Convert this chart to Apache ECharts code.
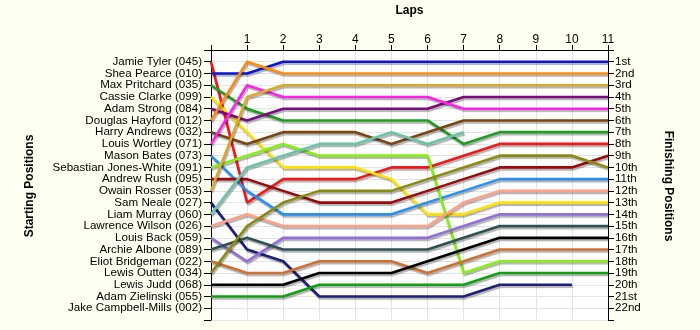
<!DOCTYPE html>
<html>
<head>
<meta charset="utf-8">
<script src="https://cdn.jsdelivr.net/npm/echarts@6/dist/echarts.min.js"></script>
<style>
  html, body { margin: 0; padding: 0; background: #fffff2; }
  #chart { width: 700px; height: 330px; }
</style>
</head>
<body>
<div id="chart"></div>
<script>
// Lap numbers (0 = grid)
const laps = [0, 1, 2, 3, 4, 5, 6, 7, 8, 9, 10, 11];

// Drivers in starting order
const drivers = [
  'Jamie Tyler (045)', 'Shea Pearce (010)', 'Max Pritchard (035)', 'Cassie Clarke (099)',
  'Adam Strong (084)', 'Douglas Hayford (012)', 'Harry Andrews (032)', 'Louis Wortley (071)',
  'Mason Bates (073)', 'Sebastian Jones-White (091)', 'Andrew Rush (095)', 'Owain Rosser (053)',
  'Sam Neale (027)', 'Liam Murray (060)', 'Lawrence Wilson (026)', 'Louis Back (059)',
  'Archie Albone (089)', 'Eliot Bridgeman (022)', 'Lewis Outten (034)', 'Lewis Judd (068)',
  'Adam Zielinski (055)', 'Jake Campbell-Mills (002)'
];

// Finishing position labels
const finishLabels = [
  '1st', '2nd', '3rd', '4th', '5th', '6th', '7th', '8th', '9th', '10th', '11th',
  '12th', '13th', '14th', '15th', '16th', '17th', '18th', '19th', '20th', '21st', '22nd'
];

// Position of each driver at the end of every lap (null = retired)
const posJamieTyler      = [1, 13, 11, 11, 11, 10, 10, 9, 8, 8, 8, 8];
const posSheaPearce      = [2, 2, 1, 1, 1, 1, 1, 1, 1, 1, 1, 1];
const posMaxPritchard    = [3, 5, 6, 6, 6, 6, 6, 8, 7, 7, 7, 7];
const posCassieClarke    = [4, 7, 10, 10, 10, 11, 14, 14, 13, 13, 13, 13];
const posAdamStrong      = [5, 6, 5, 5, 5, 5, 5, 4, 4, 4, 4, 4];
const posDouglasHayford  = [6, 1, 2, 2, 2, 2, 2, 2, 2, 2, 2, 2];
const posHarryAndrews    = [7, 8, 7, 7, 7, 8, 7, 6, 6, 6, 6, 6];
const posLouisWortley    = [8, 3, 4, 4, 4, 4, 4, 5, 5, 5, 5, 5];
const posMasonBates      = [9, 12, 14, 14, 14, 14, 13, 12, 11, 11, 11, 11];
const posSebastianJW     = [10, 9, 8, 9, 9, 9, 9, 19, 18, 18, 18, 18];
const posAndrewRush      = [11, 11, 12, 13, 13, 13, 12, 11, 10, 10, 10, 9];
const posOwainRosser     = [12, 4, 3, 3, 3, 3, 3, 3, 3, 3, 3, 3];
const posSamNeale        = [13, 17, 18, 21, 21, 21, 21, 21, 20, 20, 20, null];
const posLiamMurray      = [14, 10, 9, 8, 8, 7, 8, 7, null, null, null, null];
const posLawrenceWilson  = [15, 14, 15, 15, 15, 15, 15, 13, 12, 12, 12, 12];
const posLouisBack       = [16, 18, 16, 16, 16, 16, 16, 15, 14, 14, 14, 14];
const posArchieAlbone    = [17, 16, 17, 17, 17, 17, 17, 16, 15, 15, 15, 15];
const posEliotBridgeman  = [18, 19, 19, 18, 18, 18, 19, 18, 17, 17, 17, 17];
const posLewisOutten     = [19, 15, 13, 12, 12, 12, 11, 10, 9, 9, 9, 10];
const posLewisJudd       = [20, 20, 20, 19, 19, 19, 18, 17, 16, 16, 16, 16];
const posAdamZielinski   = [21, 21, 21, 20, 20, 20, 20, 20, 19, 19, 19, 19];

const traces = [
  { name: drivers[0],  pos: posJamieTyler,     color: '#f01818' },
  { name: drivers[1],  pos: posSheaPearce,     color: '#0a14d2' },
  { name: drivers[2],  pos: posMaxPritchard,   color: '#1f9e1f' },
  { name: drivers[3],  pos: posCassieClarke,   color: '#ffe000' },
  { name: drivers[4],  pos: posAdamStrong,     color: '#7a0a80' },
  { name: drivers[5],  pos: posDouglasHayford, color: '#ff8a10' },
  { name: drivers[6],  pos: posHarryAndrews,   color: '#7a4510' },
  { name: drivers[7],  pos: posLouisWortley,   color: '#ff20f0' },
  { name: drivers[8],  pos: posMasonBates,     color: '#2a90f0' },
  { name: drivers[9],  pos: posSebastianJW,    color: '#86f010' },
  { name: drivers[10], pos: posAndrewRush,     color: '#9a0a0a' },
  { name: drivers[11], pos: posOwainRosser,    color: '#dca82a' },
  { name: drivers[12], pos: posSamNeale,       color: '#1e1e78' },
  { name: drivers[13], pos: posLiamMurray,     color: '#6cc4a8' },
  { name: drivers[14], pos: posLawrenceWilson, color: '#ffa088' },
  { name: drivers[15], pos: posLouisBack,      color: '#9070d8' },
  { name: drivers[16], pos: posArchieAlbone,   color: '#2e5252' },
  { name: drivers[17], pos: posEliotBridgeman, color: '#d07030' },
  { name: drivers[18], pos: posLewisOutten,    color: '#8a8a10' },
  { name: drivers[19], pos: posLewisJudd,      color: '#000000' },
  { name: drivers[20], pos: posAdamZielinski,  color: '#10a010' }
];

const FONT = 'Liberation Sans';

const series = traces.map(t => ({
  name: t.name,
  type: 'line',
  yAxisIndex: 0,
  showSymbol: false,
  symbol: 'none',
  connectNulls: false,
  data: laps.map((lap, i) => [lap, t.pos[i]]),
  lineStyle: {
    color: t.color,
    width: 2.6,
    shadowColor: 'rgba(0,0,0,0.3)',
    shadowBlur: 1,
    shadowOffsetX: 1,
    shadowOffsetY: 2
  },
  itemStyle: { color: t.color }
}));

// Anchor series for the right-hand axis
series.push({
  type: 'line', yAxisIndex: 1, data: [], silent: true
});

const chart = echarts.init(document.getElementById('chart'), null, { renderer: 'canvas' });

chart.setOption({
  animation: false,
  backgroundColor: '#fffff2',
  grid: { left: 211, right: 92, top: 50, bottom: 10, show: true, backgroundColor: '#ffffff', borderWidth: 0 },
  xAxis: {
    type: 'value', position: 'top', min: 0, max: 11, interval: 1,
    name: 'Laps', nameLocation: 'middle', nameGap: 33,
    nameTextStyle: { fontFamily: FONT, fontSize: 12, fontWeight: 'bold', color: '#000' },
    axisLine: { onZero: false, lineStyle: { color: '#000', width: 1 } },
    axisTick: { show: true, length: 5, lineStyle: { color: '#000' } },
    axisLabel: {
      fontFamily: FONT, fontSize: 12, color: '#000', margin: 4,
      formatter: v => (v === 0 ? '' : String(v))
    },
    splitLine: { show: true, lineStyle: { color: '#e4e4e4', width: 1 } }
  },
  yAxis: [
    {
      type: 'value', min: 0, max: 23, interval: 1, inverse: true, position: 'left',
      axisLine: { show: true, onZero: false, lineStyle: { color: '#000', width: 1 } },
      axisTick: { show: true, length: 7, lineStyle: { color: '#000' } },
      axisLabel: {
        fontFamily: FONT, fontSize: 11.6, color: '#000', margin: 9,
        formatter: v => (v >= 1 && v <= drivers.length ? drivers[v - 1] : '')
      },
      splitLine: { show: true, lineStyle: { color: '#e4e4e4', width: 1 } }
    },
    {
      type: 'value', min: 0, max: 23, interval: 1, inverse: true, position: 'right',
      axisLine: { show: true, onZero: false, lineStyle: { color: '#000', width: 1 } },
      axisTick: { show: true, length: 6, lineStyle: { color: '#000' } },
      axisLabel: {
        fontFamily: FONT, fontSize: 11.6, color: '#000', margin: 7,
        formatter: v => (v >= 1 && v <= finishLabels.length ? finishLabels[v - 1] : '')
      },
      splitLine: { show: false }
    }
  ],
  graphic: [
    {
      type: 'text', x: 30, y: 186, rotation: Math.PI / 2,
      style: {
        text: 'Starting Positions', fill: '#000',
        font: 'bold 12px "Liberation Sans"', textAlign: 'center', textVerticalAlign: 'middle'
      }
    },
    {
      type: 'text', x: 668, y: 186, rotation: -Math.PI / 2,
      style: {
        text: 'Finishing Positions', fill: '#000',
        font: 'bold 12px "Liberation Sans"', textAlign: 'center', textVerticalAlign: 'middle'
      }
    }
  ],
  series: series
});
</script>
</body>
</html>
